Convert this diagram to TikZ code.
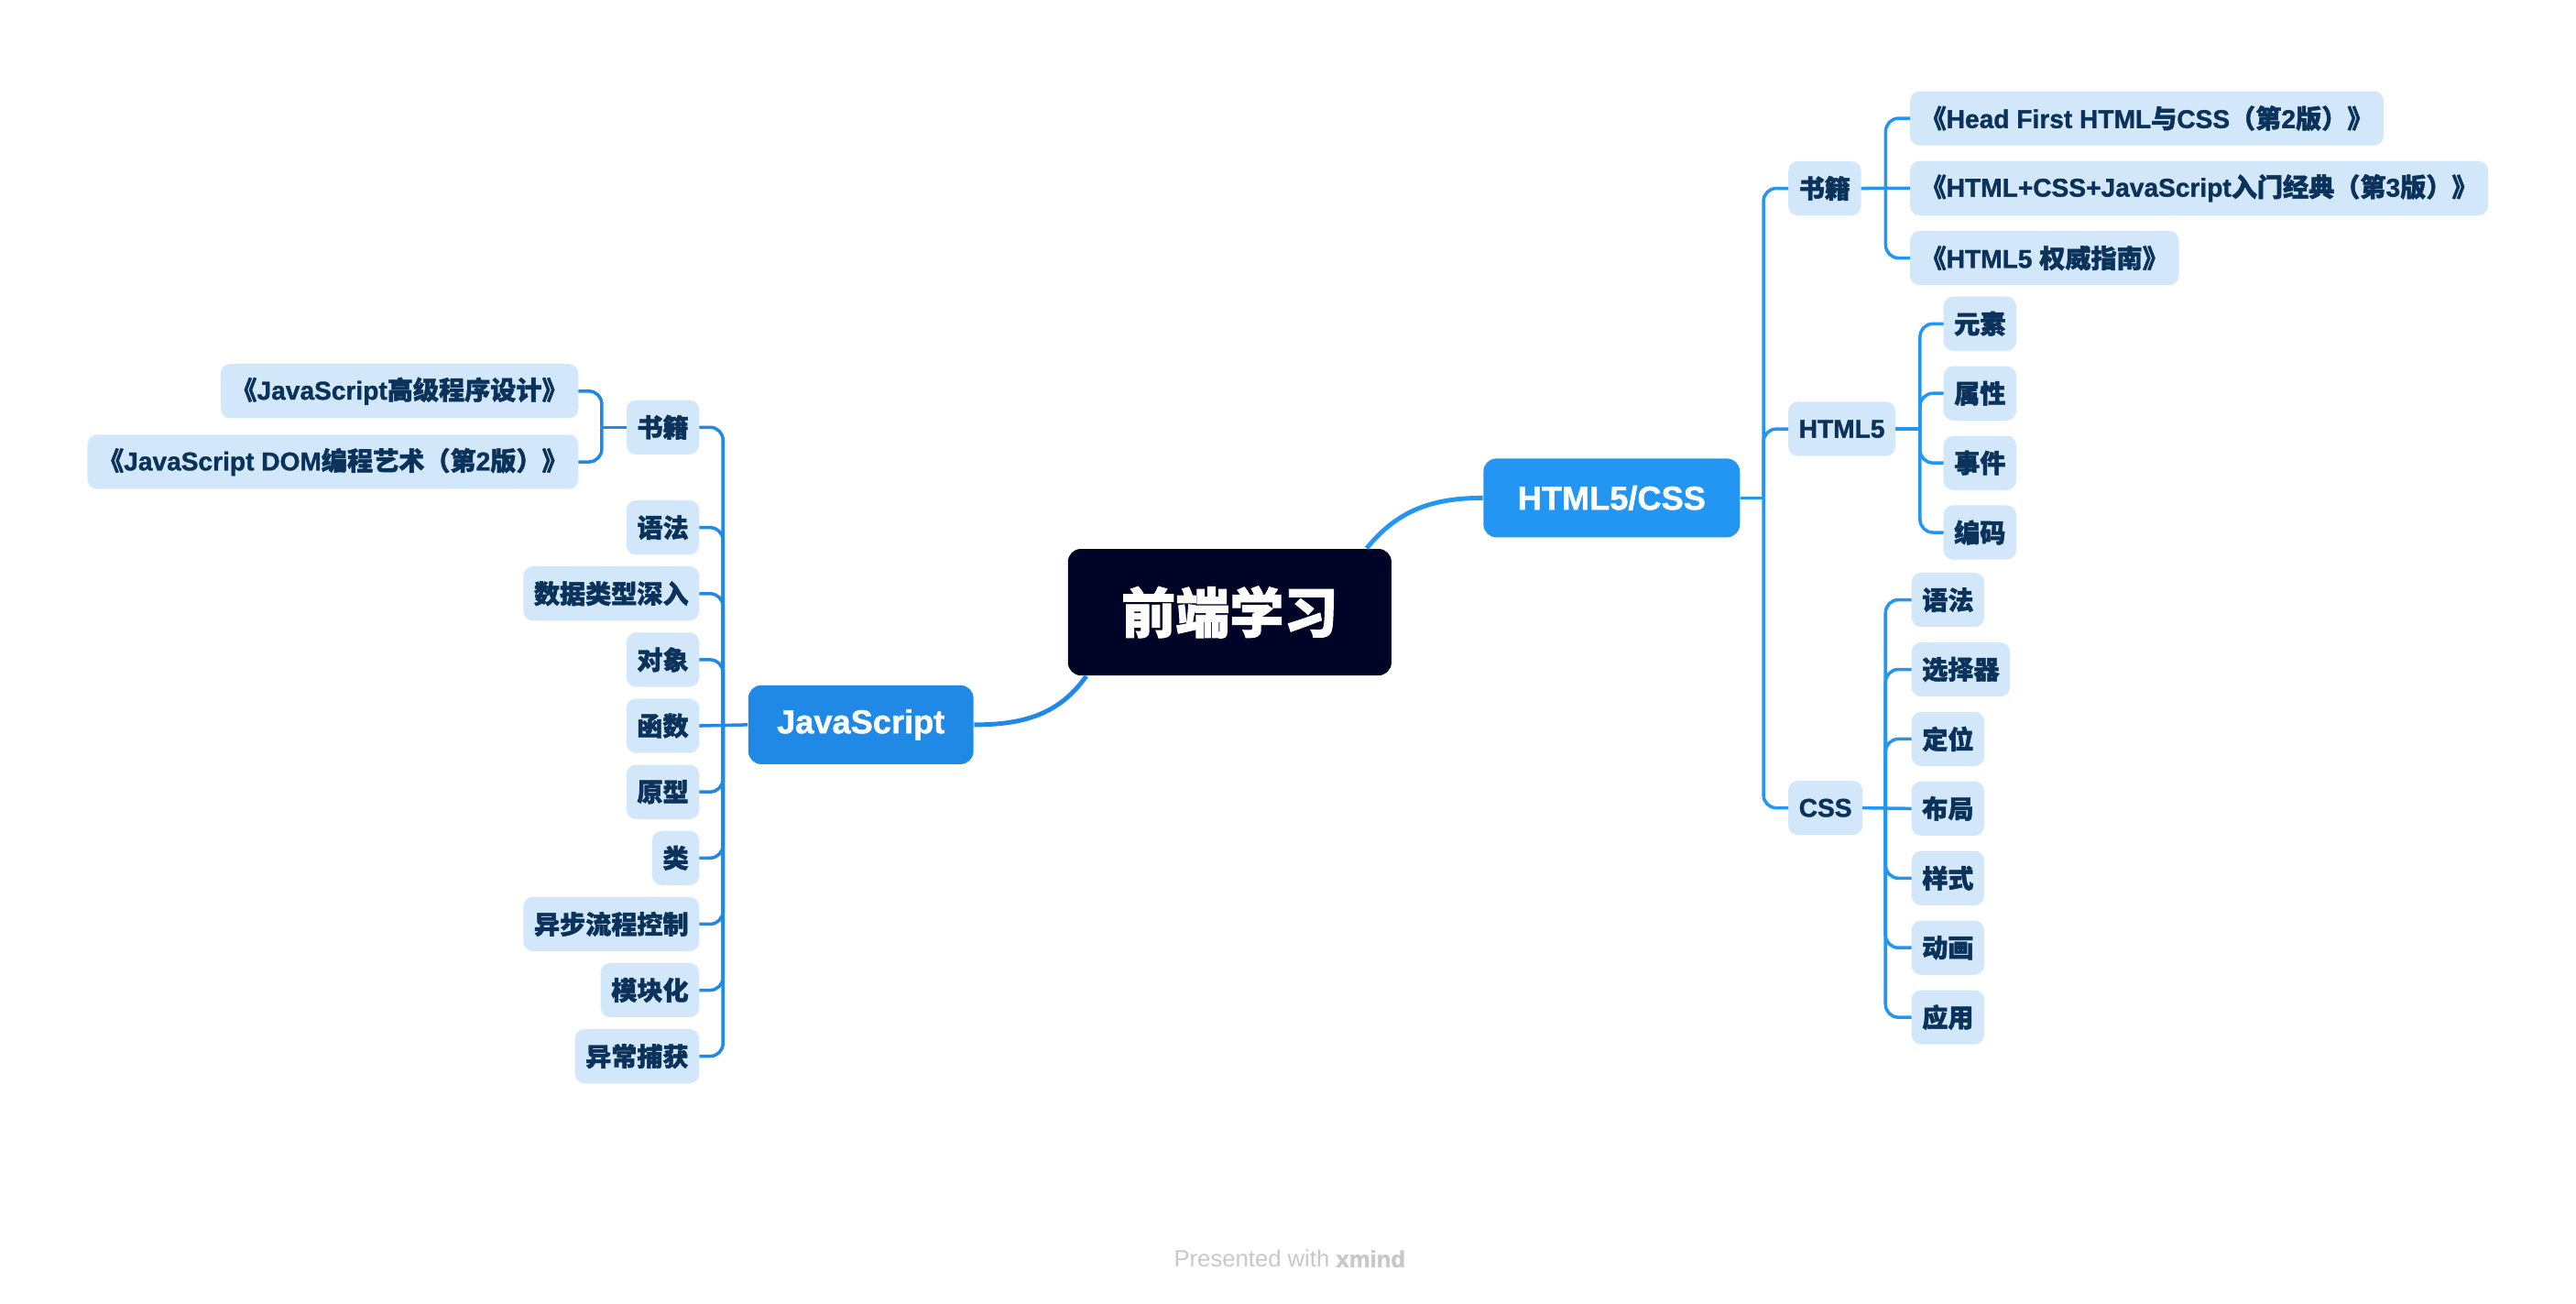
\documentclass[tikz,border=0pt]{standalone}
\usepackage{fontspec}
\setmainfont{Liberation Sans}[BoldFeatures={FakeBold=1.2}]
\newfontfamily\cjkfont{Noto Sans CJK SC}[BoldFeatures={FakeBold=1.6}]
\newfontfamily\punctfont{Noto Sans CJK TC}[BoldFeatures={FakeBold=1.6}]
\newcommand{\zh}[1]{{\cjkfont #1}}
\newcommand{\pz}[1]{{\punctfont #1}}
\usepackage{xcolor}
\usetikzlibrary{positioning, calc}
\definecolor{rootnavy}{RGB}{0, 4, 38}
\definecolor{htmlblue}{RGB}{35, 150, 243}
\definecolor{jsblue}{RGB}{31, 137, 229}
\definecolor{leaffill}{RGB}{210, 232, 250}
\definecolor{leafink}{RGB}{10, 50, 90}
\definecolor{footgray}{RGB}{200, 200, 200}

\begin{document}
\begin{tikzpicture}[
  x=0.017934cm, y=-0.017934cm,
  every node/.style={font=\bfseries},
  root/.style={
    fill=rootnavy, text=white, rounded corners=4pt,
    minimum width=3.53cm, minimum height=1.38cm, inner sep=0pt,
    font=\bfseries\fontsize{16.8}{20}\selectfont
  },
  topic/.style={
    text=white, rounded corners=4pt,
    minimum height=0.86cm, inner sep=0pt,
    font=\bfseries\fontsize{10.3}{12}\selectfont
  },
  leaf/.style={
    fill=leaffill, text=leafink, rounded corners=3pt,
    minimum height=0.592cm, inner xsep=3.3pt, inner ysep=0pt, outer sep=0pt,
    font=\bfseries\fontsize{8}{9.6}\selectfont
  },
  rlink/.style={draw=htmlblue, line width=1pt, rounded corners=4pt},
  llink/.style={draw=jsblue, line width=1pt, rounded corners=4pt},
  bigcurve/.style={line width=1.4pt}
]

  % page
  \fill[white] (0,0) rectangle (1568,793);

  % Nodo centrale e rami principali
  \node[root] (root) at (748.5,372.5) {\zh{前端学习}};
  \node[topic, fill=htmlblue, minimum width=2.798cm] (html) at (981,303) {HTML5/CSS};
  \node[topic, fill=jsblue, minimum width=2.457cm] (js) at (524,441) {JavaScript};

  % Ramo destro: HTML5/CSS
  \node[leaf, anchor=west] (hbook) at (1088.5,114.6) {\zh{书籍}};
  \node[leaf, anchor=west] (h5) at (1088.5,261) {HTML5};
  \node[leaf, anchor=west] (hcss) at (1088.5,491.6) {CSS};

  \node[leaf, anchor=west] (hb1) at (1162.6,72) {\pz{《}Head First HTML\zh{与}CSS\pz{（}\zh{第}2\zh{版}\pz{）》}};
  \node[leaf, below=0.17cm of hb1.south west, anchor=north west] (hb2) {\pz{《}HTML+CSS+JavaScript\zh{入门经典}\pz{（}\zh{第}3\zh{版}\pz{）》}};
  \node[leaf, below=0.17cm of hb2.south west, anchor=north west] (hb3) {\pz{《}HTML5 \zh{权威指南}\pz{》}};

  \node[leaf, anchor=west] (k1) at (1183,197) {\zh{元素}};
  \node[leaf, below=0.167cm of k1.south west, anchor=north west] (k2) {\zh{属性}};
  \node[leaf, below=0.167cm of k2.south west, anchor=north west] (k3) {\zh{事件}};
  \node[leaf, below=0.167cm of k3.south west, anchor=north west] (k4) {\zh{编码}};

  \node[leaf, anchor=west] (c1) at (1163.5,365) {\zh{语法}};
  \node[leaf, below=0.167cm of c1.south west, anchor=north west] (c2) {\zh{选择器}};
  \node[leaf, below=0.167cm of c2.south west, anchor=north west] (c3) {\zh{定位}};
  \node[leaf, below=0.167cm of c3.south west, anchor=north west] (c4) {\zh{布局}};
  \node[leaf, below=0.167cm of c4.south west, anchor=north west] (c5) {\zh{样式}};
  \node[leaf, below=0.167cm of c5.south west, anchor=north west] (c6) {\zh{动画}};
  \node[leaf, below=0.167cm of c6.south west, anchor=north west] (c7) {\zh{应用}};

  % Ramo sinistro: JavaScript
  \node[leaf, anchor=east] (jbook) at (425.6,260) {\zh{书籍}};
  \node[leaf, anchor=east] (jb1) at (352,238) {\pz{《}JavaScript\zh{高级程序设计}\pz{》}};
  \node[leaf, below=0.18cm of jb1.south east, anchor=north east] (jb2) {\pz{《}JavaScript DOM\zh{编程艺术}\pz{（}\zh{第}2\zh{版}\pz{）》}};

  \node[leaf, anchor=east] (j1) at (425.6,321) {\zh{语法}};
  \node[leaf, below=0.129cm of j1.south east, anchor=north east] (j2) {\zh{数据类型深入}};
  \node[leaf, below=0.129cm of j2.south east, anchor=north east] (j3) {\zh{对象}};
  \node[leaf, below=0.129cm of j3.south east, anchor=north east] (j4) {\zh{函数}};
  \node[leaf, below=0.129cm of j4.south east, anchor=north east] (j5) {\zh{原型}};
  \node[leaf, below=0.129cm of j5.south east, anchor=north east] (j6) {\zh{类}};
  \node[leaf, below=0.129cm of j6.south east, anchor=north east] (j7) {\zh{异步流程控制}};
  \node[leaf, below=0.129cm of j7.south east, anchor=north east] (j8) {\zh{模块化}};
  \node[leaf, below=0.129cm of j8.south east, anchor=north east] (j9) {\zh{异常捕获}};

  % Curve dal nodo centrale
  \draw[bigcurve, htmlblue] (root.25) to[out=51, in=180] (html.west);
  \draw[bigcurve, jsblue] (root.204) to[out=235, in=0] (js.east);

  % Giunzioni (tronchi verticali)
  \coordinate (hj) at ($(html.east)+(14,0)$);
  \coordinate (bj) at ($(hbook.east)+(15,0)$);
  \coordinate (kj) at ($(h5.east)+(15,0)$);
  \coordinate (cj) at ($(hcss.east)+(14,0)$);
  \coordinate (jj) at ($(js.west)+(-15,0)$);
  \coordinate (jbj) at ($(jbook.west)+(-15,0)$);

  % Collegamenti a destra
  \draw[rlink] (html.east) -- (hj);
  \draw[rlink] (hj) |- (hbook.west);
  \draw[rlink] (hj) |- (h5.west);
  \draw[rlink] (hj) |- (hcss.west);

  \draw[rlink] (hbook.east) -- (hb2.west);
  \draw[rlink] (bj) |- (hb1.west);
  \draw[rlink] (bj) |- (hb3.west);

  \draw[rlink] (h5.east) -- (kj);
  \draw[rlink] (kj) |- (k1.west);
  \draw[rlink] (kj) |- (k2.west);
  \draw[rlink] (kj) |- (k3.west);
  \draw[rlink] (kj) |- (k4.west);

  \draw[rlink] (hcss.east) -- (c4.west);
  \draw[rlink] (cj) |- (c1.west);
  \draw[rlink] (cj) |- (c2.west);
  \draw[rlink] (cj) |- (c3.west);
  \draw[rlink] (cj) |- (c5.west);
  \draw[rlink] (cj) |- (c6.west);
  \draw[rlink] (cj) |- (c7.west);

  % Collegamenti a sinistra
  \draw[llink] (js.west) -- (j4.east);
  \draw[llink] (jj) |- (jbook.east);
  \draw[llink] (jj) |- (j1.east);
  \draw[llink] (jj) |- (j2.east);
  \draw[llink] (jj) |- (j3.east);
  \draw[llink] (jj) |- (j5.east);
  \draw[llink] (jj) |- (j6.east);
  \draw[llink] (jj) |- (j7.east);
  \draw[llink] (jj) |- (j8.east);
  \draw[llink] (jj) |- (j9.east);

  \draw[llink] (jbook.west) -- (jbj);
  \draw[llink] (jbj) |- (jb1.east);
  \draw[llink] (jbj) |- (jb2.east);

  % Firma
  \node[font=\mdseries\fontsize{7.3}{9}\selectfont, text=footgray] (credit) at (785,766) {Presented with \textbf{xmind}};

\end{tikzpicture}
\end{document}
